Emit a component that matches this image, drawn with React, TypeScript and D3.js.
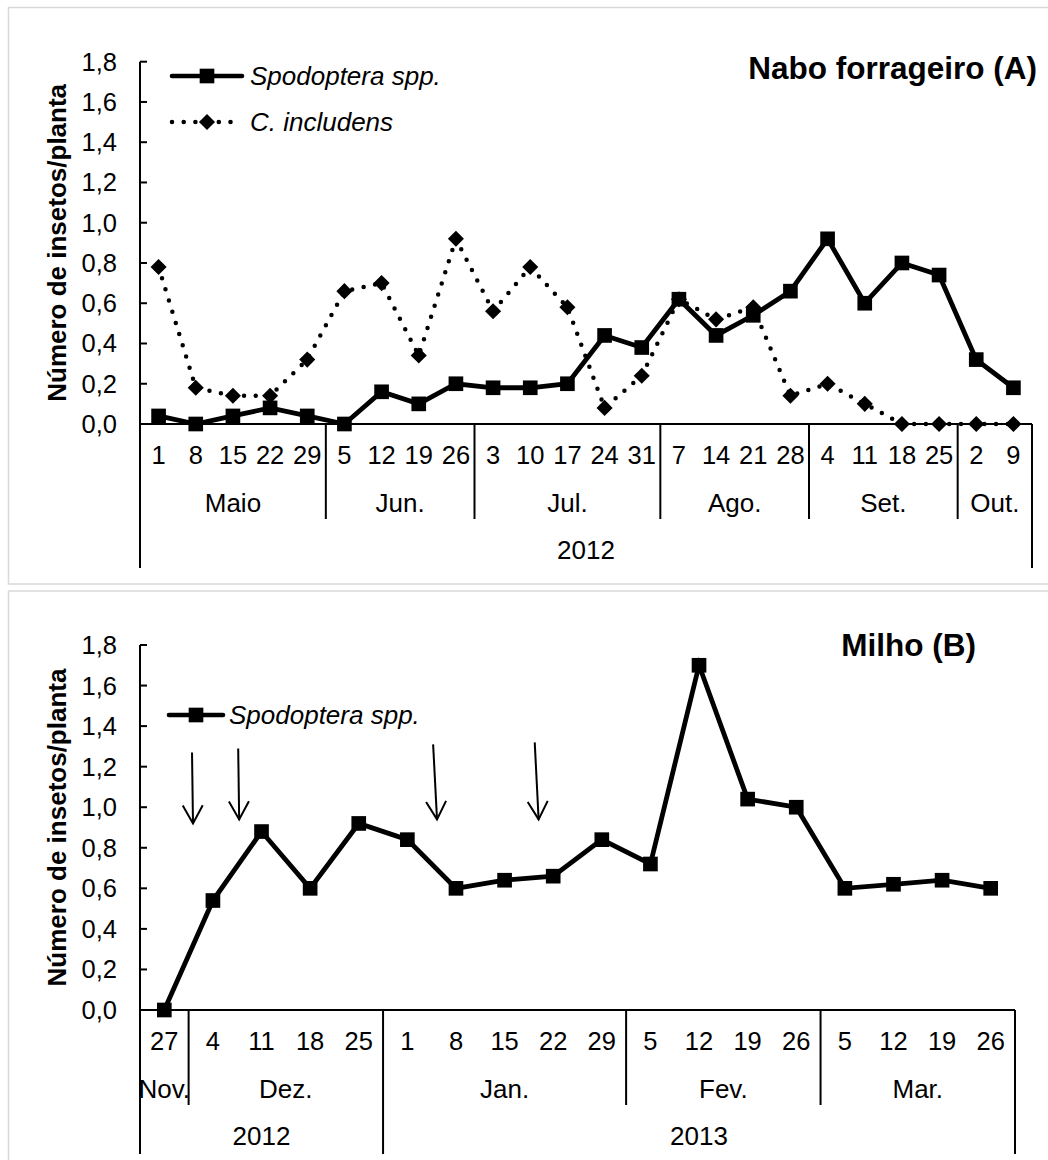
import React from "react";
import * as d3 from "d3";

// ---- Data ----
const yTicks = [0, 0.2, 0.4, 0.6, 0.8, 1.0, 1.2, 1.4, 1.6, 1.8];

// Panel A: Nabo forrageiro, 2012
const datesA = ["1", "8", "15", "22", "29", "5", "12", "19", "26", "3", "10", "17", "24", "31", "7", "14", "21", "28", "4", "11", "18", "25", "2", "9"];
const monthLabelsA = ["Maio", "Jun.", "Jul.", "Ago.", "Set.", "Out."];
const monthSpansA = [5, 4, 5, 4, 4, 2];
const yearLabelsA = ["2012"];
const yearSpansA = [24];
const spodopteraA = [0.04, 0.0, 0.04, 0.08, 0.04, 0.0, 0.16, 0.1, 0.2, 0.18, 0.18, 0.2, 0.44, 0.38, 0.62, 0.44, 0.54, 0.66, 0.92, 0.6, 0.8, 0.74, 0.32, 0.18];
const includensA = [0.78, 0.18, 0.14, 0.14, 0.32, 0.66, 0.7, 0.34, 0.92, 0.56, 0.78, 0.58, 0.08, 0.24, 0.62, 0.52, 0.58, 0.14, 0.2, 0.1, 0.0, 0.0, 0.0, 0.0];

// Panel B: Milho, 2012-2013
const datesB = ["27", "4", "11", "18", "25", "1", "8", "15", "22", "29", "5", "12", "19", "26", "5", "12", "19", "26"];
const monthLabelsB = ["Nov.", "Dez.", "Jan.", "Fev.", "Mar."];
const monthSpansB = [1, 4, 5, 4, 4];
const yearLabelsB = ["2012", "2013"];
const yearSpansB = [5, 13];
const spodopteraB = [0.0, 0.54, 0.88, 0.6, 0.92, 0.84, 0.6, 0.64, 0.66, 0.84, 0.72, 1.7, 1.04, 1.0, 0.6, 0.62, 0.64, 0.6];

// Application arrows in panel B (category index, value)
const arrowStartIdx = [0.57, 1.52, 5.53, 7.62];
const arrowStartVal = [1.27, 1.29, 1.31, 1.32];
const arrowEndIdx = [0.59, 1.54, 5.61, 7.7];
const arrowEndVal = [0.92, 0.94, 0.94, 0.94];

const FONT = "'Liberation Sans', Arial, Helvetica, sans-serif";
const fmt = d3
  .formatLocale({ decimal: ",", thousands: ".", grouping: [3], currency: ["", ""] })
  .format(".1f");

type Series = { name: string; values: number[]; dotted: boolean };

type PanelProps = {
  boxTop: number;
  boxBottom: number;
  plotTop: number;
  plotBottom: number;
  plotRight: number;
  dates: string[];
  monthLabels: string[];
  monthSpans: number[];
  yearLabels: string[];
  yearSpans: number[];
  series: Series[];
  title: string;
  titleX: number;
  titleY: number;
  legend: { x0: number; x1: number; xm: number; xt: number; ys: number[] };
  arrows?: { x0: number; y0: number; x1: number; y1: number }[];
};

const LEFT = 140;

function Panel(p: PanelProps) {
  const n = p.dates.length;
  const x = d3.scaleLinear().domain([-0.5, n - 0.5]).range([LEFT, p.plotRight]);
  const y = d3.scaleLinear().domain([0, 1.8]).range([p.plotBottom, p.plotTop]);
  const line = d3
    .line<number>()
    .x((_, i) => x(i))
    .y((v) => y(v));
  const square = d3.symbol().type(d3.symbolSquare).size(215)();
  const diamond = d3.symbol().type(d3.symbolDiamond2).size(165)();

  const monthEdges: number[] = [];
  let acc = 0;
  p.monthSpans.forEach((s) => {
    monthEdges.push(acc);
    acc += s;
  });
  const yearEdges: number[] = [];
  acc = 0;
  p.yearSpans.forEach((s) => {
    yearEdges.push(acc);
    acc += s;
  });

  const base = p.plotBottom;
  const rowTick = base + 40;
  const rowMonth = base + 88;
  const rowYear = base + 135;
  const monthLineEnd = base + 95;
  const yearLineEnd = base + 144;
  const midY = (p.plotTop + p.plotBottom) / 2;

  return (
    <g fontFamily={FONT} fill="#000">
      {/* panel frame */}
      <rect
        x={8.5}
        y={p.boxTop}
        width={1100}
        height={p.boxBottom - p.boxTop}
        fill="#fff"
        stroke="#d9d9d9"
        strokeWidth={1.5}
      />

      {/* y axis */}
      <line x1={LEFT} x2={LEFT} y1={p.plotTop} y2={base + 144} stroke="#000" strokeWidth={2} />
      {yTicks.map((t) => (
        <g key={t}>
          <line x1={LEFT} x2={LEFT + 7} y1={y(t)} y2={y(t)} stroke="#000" strokeWidth={2} />
          <text x={117} y={y(t) + 9} fontSize={25.5} textAnchor="end">
            {fmt(t)}
          </text>
        </g>
      ))}
      <text
        transform={`translate(66,${midY}) rotate(-90)`}
        fontSize={26}
        fontWeight="bold"
        textAnchor="middle"
      >
        Número de insetos/planta
      </text>

      {/* x axis with grouped categories */}
      <line x1={LEFT} x2={p.plotRight} y1={base} y2={base} stroke="#000" strokeWidth={2} />
      <line x1={p.plotRight} x2={p.plotRight} y1={base} y2={yearLineEnd} stroke="#000" strokeWidth={2} />
      {p.dates.map((d, i) => (
        <text key={i} x={x(i)} y={rowTick} fontSize={25.5} textAnchor="middle">
          {d}
        </text>
      ))}
      {p.monthLabels.map((m, k) => {
        const s = monthEdges[k];
        const e = s + p.monthSpans[k];
        return (
          <g key={m + k}>
            <text x={(x(s - 0.5) + x(e - 0.5)) / 2} y={rowMonth} fontSize={26} textAnchor="middle">
              {m}
            </text>
            {k > 0 && (
              <line
                x1={x(s - 0.5)}
                x2={x(s - 0.5)}
                y1={base}
                y2={yearEdges.includes(s) ? yearLineEnd : monthLineEnd}
                stroke="#000"
                strokeWidth={2}
              />
            )}
          </g>
        );
      })}
      {p.yearLabels.map((yl, k) => {
        const s = yearEdges[k];
        const e = s + p.yearSpans[k];
        return (
          <text key={yl} x={(x(s - 0.5) + x(e - 0.5)) / 2} y={rowYear} fontSize={26} textAnchor="middle">
            {yl}
          </text>
        );
      })}

      {/* series */}
      {p.series.map((s) => (
        <g key={s.name}>
          <path
            d={line(s.values) || ""}
            fill="none"
            stroke="#000"
            strokeWidth={s.dotted ? 4.5 : 4.8}
            strokeDasharray={s.dotted ? "0 11.7" : undefined}
            strokeLinecap={s.dotted ? "round" : "butt"}
            strokeLinejoin="miter"
          />
          {s.values.map((v, i) => (
            <path key={i} d={(s.dotted ? diamond : square) || ""} transform={`translate(${x(i)},${y(v)})`} />
          ))}
        </g>
      ))}

      {/* legend */}
      {p.series.map((s, k) => (
        <g key={"lg" + s.name}>
          <line
            x1={p.legend.x0}
            x2={p.legend.x1}
            y1={p.legend.ys[k]}
            y2={p.legend.ys[k]}
            stroke="#000"
            strokeWidth={4.6}
            strokeDasharray={s.dotted ? "0 11.7" : undefined}
            strokeLinecap="round"
          />
          <path d={(s.dotted ? diamond : square) || ""} transform={`translate(${p.legend.xm},${p.legend.ys[k]})`} />
          <text x={p.legend.xt} y={p.legend.ys[k] + 9} fontSize={26} fontStyle="italic">
            {s.name}
          </text>
        </g>
      ))}

      {/* arrows */}
      {(p.arrows || []).map((a, k) => {
        const x0 = x(a.x0);
        const y0 = y(a.y0);
        const x1 = x(a.x1);
        const y1 = y(a.y1);
        const len = Math.hypot(x1 - x0, y1 - y0);
        const ux = (x1 - x0) / len;
        const uy = (y1 - y0) / len;
        const hl = 18;
        const hw = 10;
        const bx = x1 - ux * hl;
        const by = y1 - uy * hl;
        const head = d3.path();
        head.moveTo(bx - uy * hw, by + ux * hw);
        head.lineTo(x1, y1);
        head.lineTo(bx + uy * hw, by - ux * hw);
        return (
          <g key={"ar" + k} stroke="#000" strokeWidth={2} fill="none">
            <line x1={x0} y1={y0} x2={x1} y2={y1} />
            <path d={head.toString()} />
          </g>
        );
      })}

      {/* title */}
      <text x={p.titleX} y={p.titleY} fontSize={31.5} fontWeight="bold" textAnchor="end">
        {p.title}
      </text>
    </g>
  );
}

export default function App() {
  const arrowsB = arrowStartIdx.map((_, i) => ({
    x0: arrowStartIdx[i],
    y0: arrowStartVal[i],
    x1: arrowEndIdx[i],
    y1: arrowEndVal[i],
  }));
  return (
    <svg
      width={1048}
      height={1160}
      viewBox="0 0 1048 1160"
      style={{ position: "absolute", left: 0, top: 0, background: "#fff" }}
    >
      <rect x={0} y={0} width={1048} height={1160} fill="#fff" />
      <Panel
        boxTop={7.5}
        boxBottom={584}
        plotTop={61.7}
        plotBottom={424}
        plotRight={1032}
        dates={datesA}
        monthLabels={monthLabelsA}
        monthSpans={monthSpansA}
        yearLabels={yearLabelsA}
        yearSpans={yearSpansA}
        series={[
          { name: "Spodoptera spp.", values: spodopteraA, dotted: false },
          { name: "C. includens", values: includensA, dotted: true },
        ]}
        title="Nabo forrageiro (A)"
        titleX={1037}
        titleY={79}
        legend={{ x0: 172, x1: 242, xm: 207, xt: 250, ys: [76, 122] }}
      />
      <Panel
        boxTop={591}
        boxBottom={1200}
        plotTop={645}
        plotBottom={1010}
        plotRight={1015}
        dates={datesB}
        monthLabels={monthLabelsB}
        monthSpans={monthSpansB}
        yearLabels={yearLabelsB}
        yearSpans={yearSpansB}
        series={[{ name: "Spodoptera spp.", values: spodopteraB, dotted: false }]}
        title="Milho (B)"
        titleX={976}
        titleY={656}
        legend={{ x0: 169, x1: 223, xm: 196, xt: 229, ys: [715] }}
        arrows={arrowsB}
      />
    </svg>
  );
}
